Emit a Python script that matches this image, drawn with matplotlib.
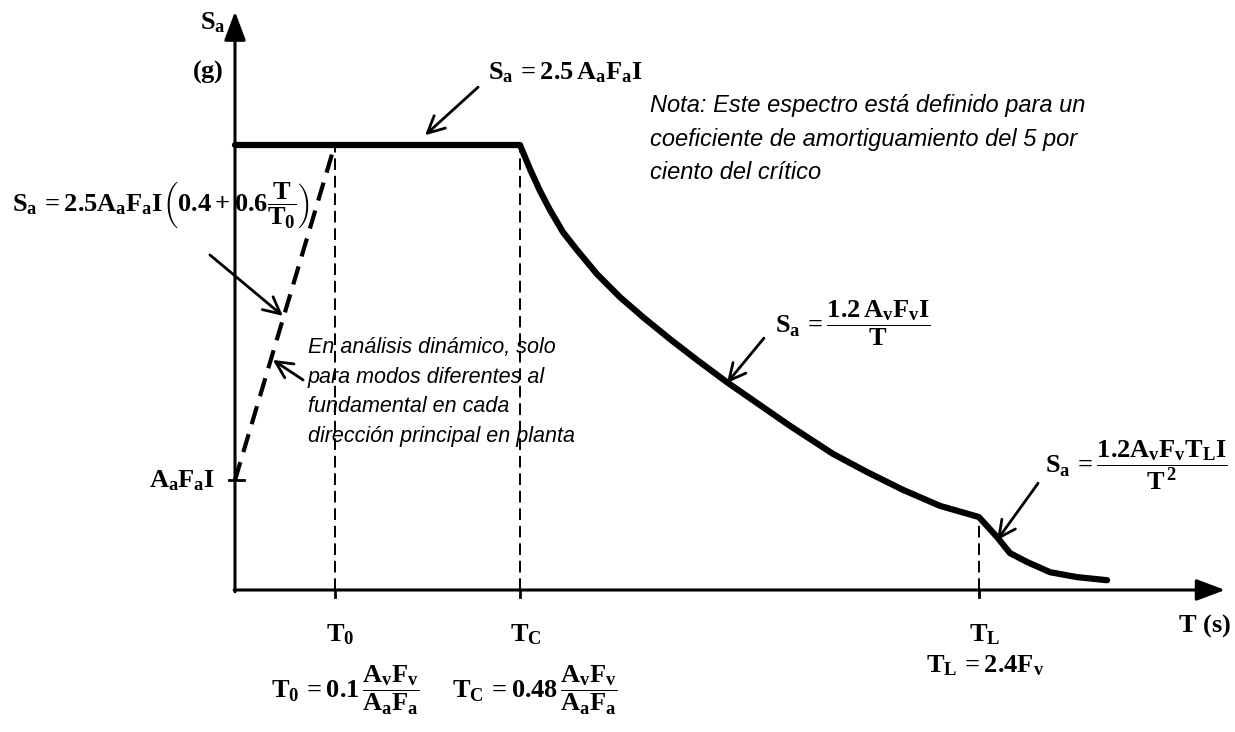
## Elastic design spectrum (schematic) - Sa vs T
import numpy as np
import matplotlib.pyplot as plt

plt.rcParams['mathtext.fontset'] = 'custom'
plt.rcParams['mathtext.rm'] = 'Liberation Serif:bold'
plt.rcParams['mathtext.it'] = 'Liberation Serif:bold'
plt.rcParams['mathtext.bf'] = 'Liberation Serif:bold'

# characteristic periods and levels (schematic units)
T0 = 0.35
TC = 1.00
TL = 2.61
SA_PLATEAU = 1.00
SA_ZERO = 0.247   # A_a F_a I

# descending branch Sa = 1.2 Av Fv I / T
t_desc = [1.000, 1.035, 1.070, 1.105, 1.151, 1.200, 1.270, 1.351, 1.432, 1.526,
          1.621, 1.726, 1.832, 1.947, 2.098, 2.218, 2.344, 2.474, 2.61]
sa_desc = [1.000, 0.946, 0.897, 0.854, 0.804, 0.764, 0.710, 0.658, 0.613, 0.564,
           0.517, 0.467, 0.420, 0.369, 0.306, 0.265, 0.225, 0.189, 0.164]
# long period branch Sa = 1.2 Av Fv TL I / T^2
t_long = [2.674, 2.719, 2.779, 2.860, 2.954, 3.060]
sa_long = [0.119, 0.083, 0.063, 0.040, 0.029, 0.022]

tick_pos = [T0, TC, TL]
tick_labels = [r'$T_0$', r'$T_C$', r'$T_L$']

#%%
fig = plt.figure(figsize=(12.35, 7.32), dpi=100)
ax = fig.add_axes([0, 0, 1, 1])
ax.set_xlim(-235 / 285, 1000 / 285)
ax.set_ylim(-142 / 445, 590 / 445)
ax.axis('off')

# axes with arrows
head = '-|>,head_length=0.8,head_width=0.3'
ax.annotate('', xy=(0, 1.30), xytext=(0, -0.004),
            arrowprops=dict(arrowstyle=head, lw=2.2, color='k', mutation_scale=22, shrinkA=0, shrinkB=0))
ax.annotate('', xy=(3.474, 0), xytext=(-0.003, 0),
            arrowprops=dict(arrowstyle=head, lw=2.2, color='k', mutation_scale=22, shrinkA=0, shrinkB=0))

# spectrum
t_all = [0.0, TC] + t_desc[1:] + t_long
sa_all = [SA_PLATEAU, SA_PLATEAU] + sa_desc[1:] + sa_long
ax.plot(t_all, sa_all, color='k', lw=4.5, solid_capstyle='round', solid_joinstyle='round')
ax.plot([0, T0], [SA_ZERO, SA_PLATEAU], color='k', lw=3, ls=(0, (4.5, 2.5)))

# reference verticals
ax.plot([T0, T0], [0, SA_PLATEAU], color='k', lw=1.4, ls=(0, (6, 3)))
ax.plot([TC, TC], [0, SA_PLATEAU], color='k', lw=1.4, ls=(0, (6, 3)))
ax.plot([TL, TL], [0, sa_desc[-1]], color='k', lw=1.4, ls=(0, (6, 3)))

# ticks
for t in tick_pos:
    ax.plot([t, t], [0, -0.016], color='k', lw=2)
ax.plot([-0.02, 0.03], [SA_ZERO, SA_ZERO], color='k', lw=2)

fs = 19
for t, lab in zip(tick_pos, tick_labels):
    ax.text(t + 0.02, -0.1, lab, fontsize=fs, ha='center', va='center')
ax.text(3.404, -0.079, r'$T\ \mathrm{(s)}$', fontsize=fs, ha='center', va='center')
ax.text(-0.077, 1.276, r'$S_a$', fontsize=fs, ha='center', va='center')
ax.text(-0.095, 1.164, r'$\mathrm{(g)}$', fontsize=fs, ha='center', va='center')
ax.text(-0.07, SA_ZERO, r'$A_aF_aI$', fontsize=fs, ha='right', va='center')

# formulas below the axis
ax.text(0.386, -0.225, r'$T_0\, = 0.1\,\dfrac{A_vF_v}{A_aF_a}$', fontsize=fs, ha='center', va='center')
ax.text(1.053, -0.225, r'$T_C\, = 0.48\,\dfrac{A_vF_v}{A_aF_a}$', fontsize=fs, ha='center', va='center')
ax.text(2.632, -0.169, r'$T_L\, = 2.4F_v$', fontsize=fs, ha='center', va='center')

# annotations with arrows
arrow = dict(arrowstyle='->,head_length=0.6,head_width=0.3', lw=2, color='k',
             mutation_scale=20, shrinkA=0, shrinkB=0)
ax.text(0.888, 1.164, r'$S_a\, = 2.5\,A_aF_aI$', fontsize=fs, ha='left', va='center')
ax.annotate('', xy=(0.667, 1.022), xytext=(0.853, 1.130), arrowprops=arrow)

ax.text(-0.782, 0.865, r'$S_a\, = 2.5A_aF_aI\left(0.4 + 0.6\dfrac{T}{T_0}\right)$',
        fontsize=fs, ha='left', va='center')
ax.annotate('', xy=(0.168, 0.616), xytext=(-0.088, 0.753), arrowprops=arrow)

ax.text(1.895, 0.600, r'$S_a\, = \dfrac{1.2\,A_vF_vI}{T}$', fontsize=fs, ha='left', va='center')
ax.annotate('', xy=(1.726, 0.465), xytext=(1.856, 0.566), arrowprops=arrow)

ax.text(2.842, 0.279, r'$S_a\, = \dfrac{1.2A_vF_vT_LI}{T^2}$', fontsize=fs, ha='left', va='center')
ax.annotate('', xy=(2.674, 0.112), xytext=(2.818, 0.240), arrowprops=arrow)

ax.text(0.256, 0.569, 'En análisis dinámico, solo\npara modos diferentes al\n'
        'fundamental en cada\ndirección principal en planta',
        fontsize=15.5, family='Liberation Sans', style='italic', ha='left', va='top',
        linespacing=1.55)
ax.annotate('', xy=(0.133, 0.517), xytext=(0.239, 0.472), arrowprops=arrow)

ax.text(1.456, 1.115, 'Nota: Este espectro está definido para un\n'
        'coeficiente de amortiguamiento del 5 por\nciento del crítico',
        fontsize=17, family='Liberation Sans', style='italic', ha='left', va='top',
        linespacing=1.6)

fig.savefig('out.png', dpi=100)
